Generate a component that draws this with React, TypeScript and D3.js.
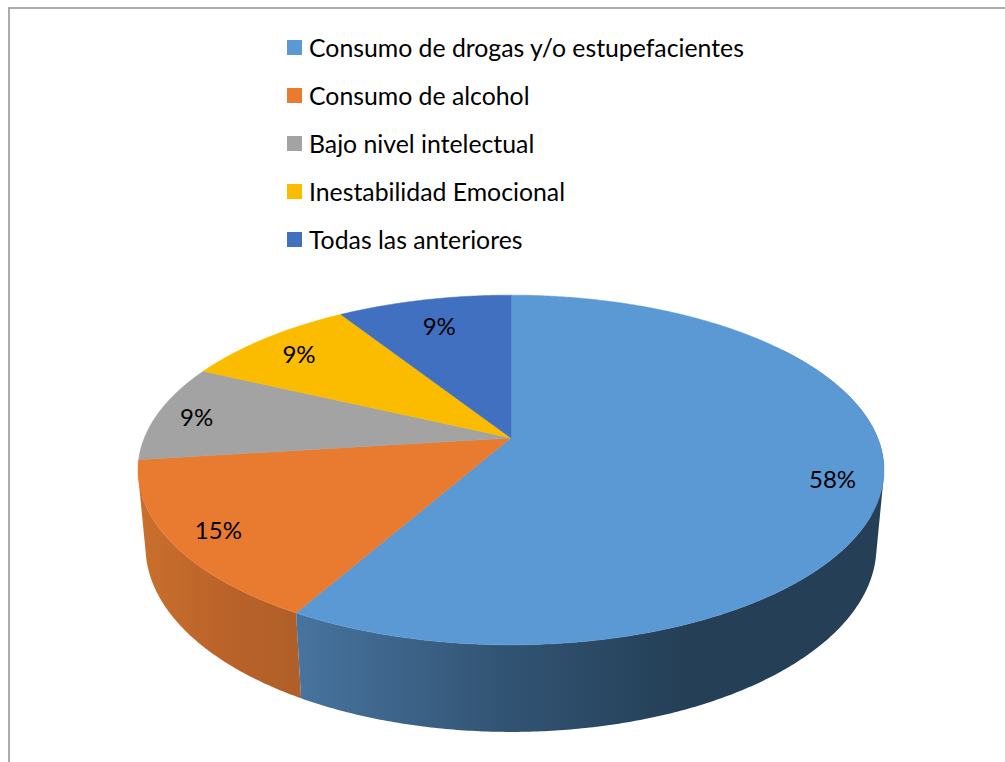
import React from "react";
import * as d3 from "d3";

const categories = [
  "Consumo de drogas y/o estupefacientes",
  "Consumo de alcohol",
  "Bajo nivel intelectual",
  "Inestabilidad Emocional",
  "Todas las anteriores",
];
const values = [58.2, 14.8, 9, 9, 9];
const colors = ["#5B99D5", "#E97B30", "#A3A3A3", "#FBBC00", "#4170C1"];
const blueSideStops = ["#47739e", "#3d6489", "#325474", "#243f56", "#243f56"];
const orangeSideStops = ["#b05f28", "#b9622a", "#c96f2d"];
const labelRadius = [0.87, 0.875, 0.89, 0.85, 0.8];

const FONT = "Lato, Carlito, 'Open Sans', sans-serif";
const W = 1005;
const H = 762;
const cx = 511;
const cy = 438;
const A = 366.7;
const B = 169;
const K = 0.183;
const DROP_Y = 77;
const DROP_W = 0.02;

const project = (a: number, r = 1, drop = false): [number, number] => {
  const w = 1 + K * r * Math.cos(a) + (drop ? DROP_W : 0);
  return [
    cx + (A * r * Math.sin(a)) / w,
    cy + (-B * r * Math.cos(a) + (drop ? DROP_Y : 0)) / w,
  ];
};

const DEG = Math.PI / 180;
const pie = d3.pie<number>().sort(null).value((d) => d);
const arcs = pie(values);
const line = d3.line();

const sweep = (a0: number, a1: number, step = DEG / 2) => {
  const n = Math.max(1, Math.ceil((a1 - a0) / step));
  return d3.range(n + 1).map((i) => a0 + ((a1 - a0) * i) / n);
};

const slicePath = (a0: number, a1: number) =>
  line([[cx, cy], ...sweep(a0, a1).map((a) => project(a))])! + "Z";

// One path made of consistently wound quads, so folds at the silhouette stay filled
const sidePath = (a0: number, a1: number) => {
  const as = sweep(a0, a1);
  return as
    .slice(0, -1)
    .map((a, i) => {
      const b = as[i + 1];
      const p = [project(a), project(b), project(b, 1, true), project(a, 1, true)] as [number, number][];
      return line(d3.polygonArea(p) < 0 ? p.reverse() : p)! + "Z";
    })
    .join("");
};

const blueDomain = [300, 400, 500, 690, 900];
const orangeDomain = [300, 230, 145];

const legendY = d3.scalePoint<string>().domain(categories).range([48, 240]);

export default function App() {
  const blue = arcs[0];
  const orange = arcs[1];
  return (
    <svg
      width={W}
      height={H}
      viewBox={`0 0 ${W} ${H}`}
      style={{ position: "absolute", left: 0, top: 0, display: "block", background: "#fff" }}
    >
      <defs>
        <linearGradient id="sideBlue" gradientUnits="userSpaceOnUse" x1={300} x2={900} y1={0} y2={0}>
          {blueDomain.map((x, i) => (
            <stop key={x} offset={(x - 300) / 600} stopColor={blueSideStops[i]} />
          ))}
        </linearGradient>
        <linearGradient id="sideOrange" gradientUnits="userSpaceOnUse" x1={300} x2={145} y1={0} y2={0}>
          {orangeDomain.map((x, i) => (
            <stop key={x} offset={(300 - x) / 155} stopColor={orangeSideStops[i]} />
          ))}
        </linearGradient>
      </defs>

      <line x1={9} y1={8} x2={W} y2={8} stroke="#ababab" strokeWidth={2} />
      <line x1={9} y1={7} x2={9} y2={H} stroke="#ababab" strokeWidth={2} />

      {categories.map((c, i) => (
        <g key={c}>
          <rect x={287} y={legendY(c)! - 8} width={15} height={15} fill={colors[i]} />
          <text x={309} y={legendY(c)! + 8.5} fontFamily={FONT} fontSize={24.8} fill="#000">
            {c}
          </text>
        </g>
      ))}

      <path d={sidePath(orange.startAngle, orange.endAngle)} fill="url(#sideOrange)" />
      <path d={sidePath(55 * DEG, blue.endAngle)} fill="url(#sideBlue)" />

      {arcs.map((d, i) => (
        <path
          key={categories[i]}
          d={slicePath(d.startAngle, d.endAngle)}
          fill={colors[i]}
          stroke={colors[i]}
          strokeWidth={0.5}
        />
      ))}

      {arcs.map((d, i) => {
        const [x, y] = project((d.startAngle + d.endAngle) / 2, labelRadius[i]);
        return (
          <text
            key={categories[i]}
            x={x}
            y={y + 11}
            textAnchor="middle"
            fontFamily={FONT}
            fontSize={24}
            fill="#000"
          >
            {Math.round(d.data)}%
          </text>
        );
      })}
    </svg>
  );
}
